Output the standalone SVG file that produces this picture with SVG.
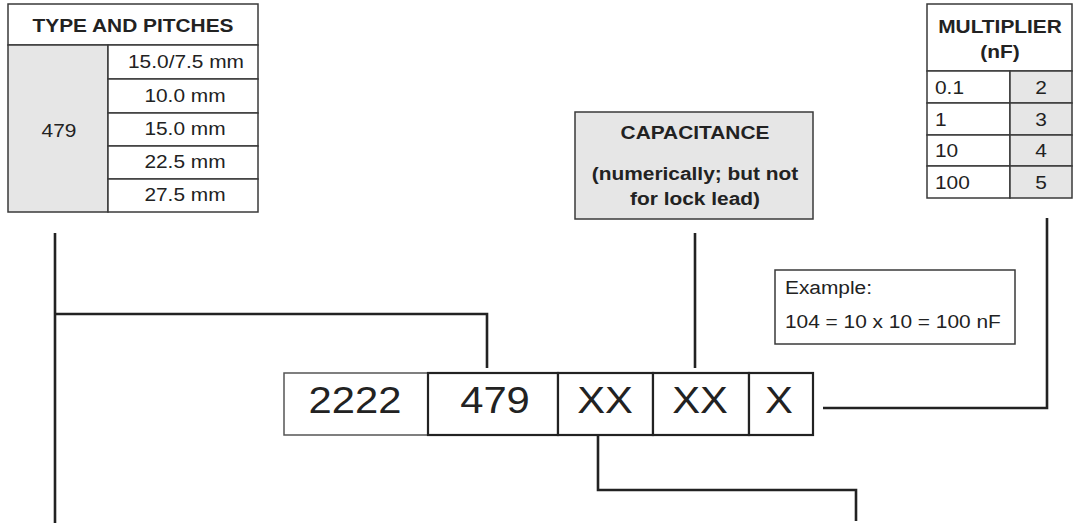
<svg xmlns="http://www.w3.org/2000/svg" width="1076" height="524" viewBox="0 0 1076 524">
  <style>
    text { font-family: "Liberation Sans", Arial, sans-serif; fill: #222; }
    .cell { fill: #fff; stroke: #3a3a3a; stroke-width: 1.5; }
    .shade { fill: #e6e6e6; stroke: #3a3a3a; stroke-width: 1.5; }
    .code { fill: #fff; stroke: #222; stroke-width: 2.2; }
    .code-light { fill: #fff; stroke: #555; stroke-width: 1.5; }
    .t { font-size: 18px; }
    .b { font-size: 18px; font-weight: bold; }
    .big { font-size: 36px; }
    .mid { text-anchor: middle; }
    .wire { fill: none; stroke: #222; stroke-width: 2.6; }
  </style>

  <!-- Type and pitches table (text is set slightly wide: scale 1.16 x) -->
  <g id="type-pitches">
    <rect class="cell" x="8" y="4" width="250" height="41"/>
    <text class="b mid" transform="translate(133 32) scale(1.16 1)">TYPE AND PITCHES</text>
    <rect class="shade" x="8" y="45" width="100" height="167"/>
    <text class="t mid" transform="translate(59 137) scale(1.16 1)">479</text>
    <rect class="cell" x="108" y="45" width="150" height="34"/>
    <rect class="cell" x="108" y="79" width="150" height="34"/>
    <rect class="cell" x="108" y="113" width="150" height="33"/>
    <rect class="cell" x="108" y="146" width="150" height="33"/>
    <rect class="cell" x="108" y="179" width="150" height="33"/>
    <text class="t mid" transform="translate(186 68) scale(1.16 1)">15.0/7.5 mm</text>
    <text class="t mid" transform="translate(185 102) scale(1.16 1)">10.0 mm</text>
    <text class="t mid" transform="translate(185 135) scale(1.16 1)">15.0 mm</text>
    <text class="t mid" transform="translate(185 168) scale(1.16 1)">22.5 mm</text>
    <text class="t mid" transform="translate(185 201) scale(1.16 1)">27.5 mm</text>
  </g>

  <!-- Capacitance label -->
  <g id="capacitance">
    <rect class="shade" x="575" y="112" width="238" height="107"/>
    <text class="b mid" transform="translate(695 139) scale(1.16 1)">CAPACITANCE</text>
    <text class="b mid" transform="translate(695 180) scale(1.16 1)">(numerically; but not</text>
    <text class="b mid" transform="translate(695 205) scale(1.16 1)">for lock lead)</text>
  </g>

  <!-- Multiplier table -->
  <g id="multiplier">
    <rect class="cell" x="927" y="4" width="145" height="67"/>
    <text class="b mid" transform="translate(1000 33) scale(1.16 1)">MULTIPLIER</text>
    <text class="b mid" transform="translate(1000 58) scale(1.16 1)">(nF)</text>
    <rect class="cell" x="927" y="71" width="83" height="32"/>
    <rect class="cell" x="927" y="103" width="83" height="32"/>
    <rect class="cell" x="927" y="135" width="83" height="31"/>
    <rect class="cell" x="927" y="166" width="83" height="32"/>
    <rect class="shade" x="1010" y="71" width="62" height="32"/>
    <rect class="shade" x="1010" y="103" width="62" height="32"/>
    <rect class="shade" x="1010" y="135" width="62" height="31"/>
    <rect class="shade" x="1010" y="166" width="62" height="32"/>
    <text class="t" transform="translate(935 94) scale(1.16 1)">0.1</text>
    <text class="t" transform="translate(935 126) scale(1.16 1)">1</text>
    <text class="t" transform="translate(935 157) scale(1.16 1)">10</text>
    <text class="t" transform="translate(935 189) scale(1.16 1)">100</text>
    <text class="t mid" transform="translate(1041 94) scale(1.16 1)">2</text>
    <text class="t mid" transform="translate(1041 126) scale(1.16 1)">3</text>
    <text class="t mid" transform="translate(1041 157) scale(1.16 1)">4</text>
    <text class="t mid" transform="translate(1041 189) scale(1.16 1)">5</text>
  </g>

  <!-- Worked example -->
  <g id="example">
    <rect class="cell" x="775" y="270" width="240" height="74"/>
    <text class="t" transform="translate(785 294) scale(1.16 1)">Example:</text>
    <text class="t" transform="translate(785 328) scale(1.16 1)">104 = 10 x 10 = 100 nF</text>
  </g>

  <!-- Type code fields -->
  <g id="code">
    <rect class="code-light" x="284" y="373" width="144" height="62"/>
    <rect class="code" x="428" y="373" width="130" height="62"/>
    <rect class="code" x="558" y="373" width="95" height="62"/>
    <rect class="code" x="653" y="373" width="96" height="62"/>
    <rect class="code" x="749" y="373" width="64" height="62"/>
    <text class="big mid" transform="translate(355 413) scale(1.16 1)">2222</text>
    <text class="big mid" transform="translate(495 413) scale(1.16 1)">479</text>
    <text class="big mid" transform="translate(605 413) scale(1.16 1)">XX</text>
    <text class="big mid" transform="translate(700 413) scale(1.16 1)">XX</text>
    <text class="big mid" transform="translate(779 413) scale(1.16 1)">X</text>
  </g>

  <!-- Connectors -->
  <g id="connectors">
    <path class="wire" d="M55 233 V523"/>
    <path class="wire" d="M55 314 H487 V368"/>
    <path class="wire" d="M695 233 V368"/>
    <path class="wire" d="M1047 218 V408 H823"/>
    <path class="wire" d="M598 435 V490 H856 V521"/>
  </g>
</svg>
